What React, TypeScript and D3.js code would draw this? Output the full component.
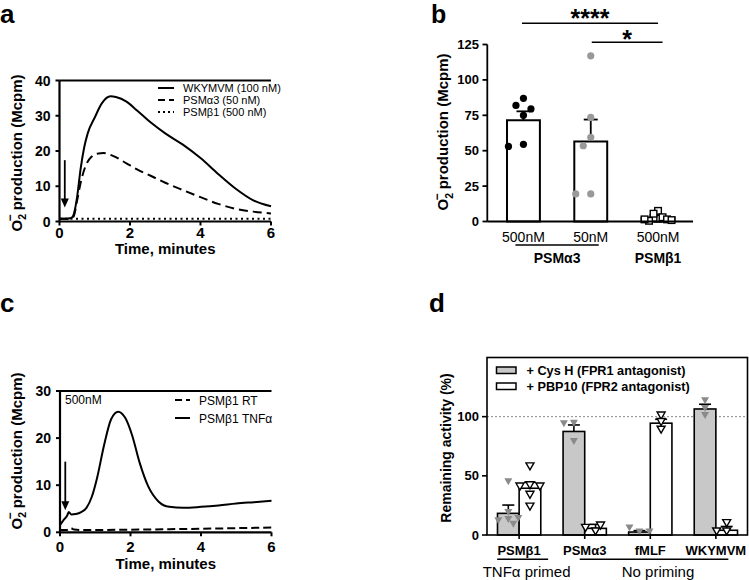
import React from "react";
import * as d3 from "d3";

const FONT = "Liberation Sans, Arial, Helvetica, sans-serif";

// ---------- Panel a data ----------
const timeA_W = [0, 0.1, 0.2, 0.3, 0.38, 0.45, 0.5, 0.6, 0.7, 0.8, 1.0, 1.2, 1.45, 1.6, 1.9, 2.2, 2.6, 3.0, 3.5, 4.0, 4.5, 5.0, 5.5, 6.0];
const wkymvm = [0.8, 0.8, 0.8, 0.9, 1.5, 4, 7, 15, 21, 25, 29.5, 33.5, 35.5, 35.3, 34, 31.5, 28, 25, 21.8, 18, 13.5, 9.3, 6, 4.3];
const timeA_P = [0, 0.1, 0.2, 0.3, 0.4, 0.5, 0.6, 0.75, 0.9, 1.1, 1.25, 1.5, 1.9, 2.2, 2.6, 3.0, 3.5, 4.0, 4.5, 5.0, 5.5, 6.0];
const psma3 = [0.8, 0.8, 0.8, 0.8, 1.4, 6, 11, 16, 18.3, 19.3, 19.4, 18.7, 16.5, 14.8, 12.9, 11, 8.9, 6.9, 5, 3.6, 2.8, 2.3];
const timeA_B = [0, 1, 2, 3, 4, 5, 6];
const psmb1 = [0.8, 0.8, 0.8, 0.8, 0.8, 0.8, 0.8];
const legendA = ["WKYMVM (100 nM)", "PSMα3 (50 nM)", "PSMβ1 (500 nM)"];
const xTicksA = [0, 2, 4, 6];
const yTicksA = [0, 10, 20, 30, 40];
const arrowA = { t: 0.15, from: 17.4, to: 4 };

// ---------- Panel b data ----------
const bCats = ["500nM", "50nM", "500nM"];
const bMeans = [71.5, 56.5, 2.7];
const bSem = [6.3, 15.5, 0.9];
const bPts = [
  [87, 82, 79.5, 75, 54.5, 53],
  [117, 73.5, 59.5, 53.5, 19.5, 19.5],
  [7.5, 2, 2.5, 3, 0.5, 1.5, 5.5, 1.5, 1],
];
const yTicksB = [0, 25, 50, 75, 100, 125];
const bGroupLabels = [
  { text: "PSMα3", from: 0, to: 1 },
  { text: "PSMβ1", from: 2, to: 2 },
];
const bSig = [
  { text: "****", from: 0, to: 2 },
  { text: "*", from: 1, to: 2 },
];

// ---------- Panel c data ----------
const timeC_T = [0, 0.1, 0.2, 0.25, 0.32, 0.45, 0.6, 0.75, 0.9, 1.05, 1.25, 1.45, 1.65, 1.85, 2.05, 2.25, 2.5, 2.8, 3.1, 3.5, 4.0, 4.5, 5.0, 5.5, 6.0];
const tnfa = [1.5, 2.6, 3.5, 4.3, 3.8, 3.9, 4.3, 5.2, 7.5, 11.5, 18.5, 24, 25.6, 24.3, 20.5, 15, 9.8, 6.5, 5.4, 5.2, 5.4, 5.7, 6.1, 6.4, 6.7];
const timeC_R = [0, 0.2, 0.3, 0.4, 0.6, 1, 2, 3, 4, 5, 6];
const rt = [0.5, 0.5, 0.9, 0.6, 0.5, 0.5, 0.55, 0.65, 0.75, 0.88, 1.0];
const legendC = ["PSMβ1 RT", "PSMβ1 TNFα"];
const xTicksC = [0, 2, 4, 6];
const yTicksC = [0, 10, 20, 30];
const arrowC = { t: 0.15, from: 15, to: 4.7 };

// ---------- Panel d data ----------
const dGroups = ["PSMβ1", "PSMα3", "fMLF", "WKYMVM"];
const dCysMean = [18.3, 87.5, 2.5, 106.5];
const dCysSem = [7, 5.5, 1.2, 4];
const dPbpMean = [39.5, 5.6, 94.5, 4];
const dPbpSem = [5, 3.4, 3.3, 3.2];
const dCysPts = [
  [45, 19, 13, 12, 9, 14],
  [94.5, 79, 94],
  [2.5, 6, 2.5],
  [101, 113.5, 107],
];
const dPbpPts = [
  [58, 42, 41, 41, 34, 24],
  [3, 6, 8],
  [101, 89, 95.5],
  [3, 10, 3],
];
const yTicksD = [0, 50, 100];
const dLegend = ["+ Cys H  (FPR1 antagonist)", "+ PBP10 (FPR2 antagonist)"];
const dPriming = [
  { text: "TNFα primed", from: 0, to: 0 },
  { text: "No priming", from: 1, to: 3 },
];

function swarm(vals: number[], y: (v: number) => number, cx: number, slot: number, minDist: number) {
  const placed: { x: number; y: number }[] = [];
  return vals.map((v) => {
    const yy = y(v);
    for (let k = 0; k < 30; k++) {
      const n = Math.ceil(k / 2);
      const off = k === 0 ? 0 : k % 2 === 1 ? -n * slot : n * slot;
      const x = cx + off;
      if (placed.every((p) => Math.hypot(p.x - x, p.y - yy) >= minDist)) {
        placed.push({ x, y: yy });
        return { x, y: yy, v };
      }
    }
    placed.push({ x: cx, y: yy });
    return { x: cx, y: yy, v };
  });
}

function O2Label({ x, y, size }: { x: number; y: number; size: number }) {
  return (
    <text transform={`translate(${x},${y}) rotate(-90)`} textAnchor="middle" fontFamily={FONT} fontWeight="bold" fontSize={size} fill="#000">
      <tspan>O</tspan>
      <tspan fontSize={size * 0.7} dy={size * 0.3}>2</tspan>
      <tspan fontSize={size * 0.8} dx={-size * 0.5} dy={-size * 0.8}>−</tspan>
      <tspan dy={size * 0.5}>{" production (Mcpm)"}</tspan>
    </text>
  );
}

function Arrow({ x, y1, y2 }: { x: number; y1: number; y2: number }) {
  return (
    <g>
      <line x1={x} x2={x} y1={y1} y2={y2 - 7} stroke="#000" strokeWidth={1.8} />
      <path d={`M${x - 4},${y2 - 9} L${x + 4},${y2 - 9} L${x},${y2} Z`} fill="#000" />
    </g>
  );
}

function PanelA() {
  const x = d3.scaleLinear().domain([0, 6]).range([59.5, 271]);
  const y = d3.scaleLinear().domain([0, 40]).range([221.5, 80.5]);
  const line = (ts: number[], vs: number[]) =>
    d3.line<number>().x((_, i) => x(ts[i])).y((v) => y(v)).curve(d3.curveMonotoneX)(vs) || "";
  const dashes = ["", "9,5", "2,3.5"];
  return (
    <g>
      <text x={0} y={23} fontFamily={FONT} fontWeight="bold" fontSize={26}>a</text>
      <path d={line(timeA_B, psmb1)} fill="none" stroke="#000" strokeWidth={2} strokeDasharray={dashes[2]} />
      <path d={line(timeA_P, psma3)} fill="none" stroke="#000" strokeWidth={2} strokeDasharray={dashes[1]} />
      <path d={line(timeA_W, wkymvm)} fill="none" stroke="#000" strokeWidth={2} />
      <line x1={x(0)} x2={x(6)} y1={y(40)} y2={y(40)} stroke="#000" strokeWidth={1.8} />
      <line x1={x(0)} x2={x(0)} y1={y(0)} y2={y(40)} stroke="#000" strokeWidth={2.2} />
      <line x1={x(0)} x2={x(6)} y1={y(0)} y2={y(0)} stroke="#000" strokeWidth={2.2} />
      {yTicksA.map((t) => (
        <g key={t}>
          <line x1={x(0) - 4} x2={x(0)} y1={y(t)} y2={y(t)} stroke="#000" strokeWidth={2} />
          <text x={x(0) - 9} y={y(t) + 5} textAnchor="end" fontFamily={FONT} fontWeight="bold" fontSize={14}>{t}</text>
        </g>
      ))}
      {xTicksA.map((t) => (
        <g key={t}>
          <line x1={x(t)} x2={x(t)} y1={y(0)} y2={y(0) + 4} stroke="#000" strokeWidth={2} />
          <text x={x(t)} y={237.5} textAnchor="middle" fontFamily={FONT} fontWeight="bold" fontSize={15}>{t}</text>
        </g>
      ))}
      <text x={(x(0) + x(6)) / 2} y={253.5} textAnchor="middle" fontFamily={FONT} fontWeight="bold" fontSize={15}>Time, minutes</text>
      <O2Label x={21.5} y={153} size={15} />
      <Arrow x={x(arrowA.t)} y1={y(arrowA.from)} y2={y(arrowA.to)} />
      {legendA.map((l, i) => (
        <g key={l}>
          <line x1={158} x2={174} y1={88 + i * 12} y2={88 + i * 12} stroke="#000" strokeWidth={2} strokeDasharray={dashes[i] === "" ? undefined : i === 1 ? "7,4" : "2,3"} />
          <text x={183} y={92 + i * 12} fontFamily={FONT} fontSize={11}>{l}</text>
        </g>
      ))}
    </g>
  );
}

function PanelB() {
  const x = d3.scaleBand<number>().domain([0, 1, 2]).range([489.5, 692]).paddingInner(1 - 33 / 67.5).paddingOuter(0.26);
  const y = d3.scaleLinear().domain([0, 125]).range([221.5, 44.5]);
  const cx = (i: number) => (x(i) as number) + x.bandwidth() / 2;
  return (
    <g>
      <text x={431} y={23} fontFamily={FONT} fontWeight="bold" fontSize={25}>b</text>
      {bMeans.map((m, i) => (
        <g key={i}>
          <rect x={x(i)} y={y(m)} width={x.bandwidth()} height={y(0) - y(m)} fill="#fff" stroke="#000" strokeWidth={2} />
          <line x1={cx(i)} x2={cx(i)} y1={y(m)} y2={y(m + bSem[i])} stroke="#000" strokeWidth={1.8} />
          <line x1={cx(i) - 7} x2={cx(i) + 7} y1={y(m + bSem[i])} y2={y(m + bSem[i])} stroke="#000" strokeWidth={1.8} />
        </g>
      ))}
      {swarm(bPts[0], y, cx(0), 7.5, 8.5).map((p, k) => (
        <circle key={"a" + k} cx={p.x} cy={p.y} r={3.6} fill="#000" />
      ))}
      {swarm(bPts[1], y, cx(1), 7.5, 8.5).map((p, k) => (
        <circle key={"b" + k} cx={p.x} cy={p.y} r={3.6} fill="#999" />
      ))}
      {swarm(bPts[2], y, cx(2), 4.5, 4).map((p, k) => (
        <rect key={"c" + k} x={p.x - 3.3} y={p.y - 3.3} width={6.6} height={6.6} fill="#fff" stroke="#000" strokeWidth={1.4} />
      ))}
      <line x1={487.3} x2={487.3} y1={y(0)} y2={y(125)} stroke="#000" strokeWidth={1.8} />
      <line x1={487.3} x2={693} y1={y(0)} y2={y(0)} stroke="#000" strokeWidth={1.8} />
      {yTicksB.map((t) => (
        <g key={t}>
          <line x1={482.5} x2={487.3} y1={y(t)} y2={y(t)} stroke="#000" strokeWidth={1.8} />
          <text x={479} y={y(t) + 4.5} textAnchor="end" fontFamily={FONT} fontWeight="bold" fontSize={13}>{t}</text>
        </g>
      ))}
      {bCats.map((c, i) => (
        <text key={i} x={cx(i)} y={241.5} textAnchor="middle" fontFamily={FONT} fontSize={14}>{c}</text>
      ))}
      {bGroupLabels.map((g) => (
        <g key={g.text}>
          {g.to > g.from && <line x1={cx(g.from) - 8} x2={cx(g.to) + 8} y1={245} y2={245} stroke="#000" strokeWidth={1.5} />}
          <text x={(cx(g.from) + cx(g.to)) / 2} y={263} textAnchor="middle" fontFamily={FONT} fontWeight="bold" fontSize={14}>{g.text}</text>
        </g>
      ))}
      {bSig.map((s, i) => {
        const ly = i === 0 ? 23.3 : 42.3;
        const x1 = i === 0 ? cx(s.from) - 1.5 : cx(s.from) + 1;
        const x2 = i === 0 ? cx(s.to) : cx(s.to) + 4.5;
        return (
          <g key={i}>
            <line x1={x1} x2={x2} y1={ly} y2={ly} stroke="#000" strokeWidth={1.5} />
            <text x={(x1 + x2) / 2} y={i === 0 ? 27 : 47.5} textAnchor="middle" fontFamily={FONT} fontWeight="bold" fontSize={25}>{s.text}</text>
          </g>
        );
      })}
      <O2Label x={448} y={132} size={15} />
    </g>
  );
}

function PanelC() {
  const x = d3.scaleLinear().domain([0, 6]).range([60, 271.5]);
  const y = d3.scaleLinear().domain([0, 30]).range([532.3, 391]);
  const line = (ts: number[], vs: number[]) =>
    d3.line<number>().x((_, i) => x(ts[i])).y((v) => y(v)).curve(d3.curveMonotoneX)(vs) || "";
  return (
    <g>
      <text x={0} y={312} fontFamily={FONT} fontWeight="bold" fontSize={26}>c</text>
      <path d={line(timeC_R, rt)} fill="none" stroke="#000" strokeWidth={2} strokeDasharray="8,4" />
      <path d={line(timeC_T, tnfa)} fill="none" stroke="#000" strokeWidth={2} />
      <line x1={x(0)} x2={x(6)} y1={y(30)} y2={y(30)} stroke="#000" strokeWidth={1.8} />
      <line x1={x(0)} x2={x(0)} y1={y(0)} y2={y(30)} stroke="#000" strokeWidth={2.2} />
      <line x1={x(0)} x2={x(6)} y1={y(0)} y2={y(0)} stroke="#000" strokeWidth={2.2} />
      {yTicksC.map((t) => (
        <g key={t}>
          <line x1={x(0) - 4} x2={x(0)} y1={y(t)} y2={y(t)} stroke="#000" strokeWidth={2} />
          <text x={x(0) - 9} y={y(t) + 5} textAnchor="end" fontFamily={FONT} fontWeight="bold" fontSize={14}>{t}</text>
        </g>
      ))}
      {xTicksC.map((t) => (
        <g key={t}>
          <line x1={x(t)} x2={x(t)} y1={y(0)} y2={y(0) + 4} stroke="#000" strokeWidth={2} />
          <text x={x(t)} y={552} textAnchor="middle" fontFamily={FONT} fontWeight="bold" fontSize={15}>{t}</text>
        </g>
      ))}
      <text x={(x(0) + x(6)) / 2} y={569} textAnchor="middle" fontFamily={FONT} fontWeight="bold" fontSize={15}>Time, minutes</text>
      <O2Label x={21.5} y={451} size={15} />
      <Arrow x={x(arrowC.t)} y1={y(arrowC.from)} y2={y(arrowC.to)} />
      <text x={65} y={404} fontFamily={FONT} fontSize={12}>500nM</text>
      {legendC.map((l, i) => (
        <g key={l}>
          <line x1={175} x2={190} y1={400 + i * 18} y2={400 + i * 18} stroke="#000" strokeWidth={2} strokeDasharray={i === 0 ? "7,4" : undefined} />
          <text x={199} y={404.5 + i * 18} fontFamily={FONT} fontSize={12}>{l}</text>
        </g>
      ))}
    </g>
  );
}

function PanelD() {
  const x = d3.scaleBand<number>().domain([0, 1, 2, 3]).range([487, 748]).paddingInner(0.34).paddingOuter(0.16);
  const y = d3.scaleLinear().domain([0, 150]).range([535, 357.5]);
  const bw = x.bandwidth();
  const cx = (i: number) => (x(i) as number) + bw / 2;
  const tri = (px: number, py: number) => `M${px - 4},${py - 3.5} L${px + 4},${py - 3.5} L${px},${py + 3.5} Z`;
  return (
    <g>
      <text x={429} y={312} fontFamily={FONT} fontWeight="bold" fontSize={26}>d</text>
      <line x1={487} x2={747} y1={y(100)} y2={y(100)} stroke="#888" strokeWidth={1} strokeDasharray="2,2" />
      {dGroups.map((g, i) => {
        const xl = x(i) as number;
        const c = cx(i);
        return (
          <g key={g}>
            <rect x={xl} y={y(dCysMean[i])} width={bw / 2} height={y(0) - y(dCysMean[i])} fill="#c8c8c8" stroke="#000" strokeWidth={1.6} />
            <line x1={xl + bw / 4} x2={xl + bw / 4} y1={y(dCysMean[i])} y2={y(dCysMean[i] + dCysSem[i])} stroke="#000" strokeWidth={1.6} />
            <line x1={xl + bw / 4 - 6} x2={xl + bw / 4 + 6} y1={y(dCysMean[i] + dCysSem[i])} y2={y(dCysMean[i] + dCysSem[i])} stroke="#000" strokeWidth={1.6} />
            <rect x={c} y={y(dPbpMean[i])} width={bw / 2} height={y(0) - y(dPbpMean[i])} fill="#fff" stroke="#000" strokeWidth={1.6} />
            <line x1={c + bw / 4} x2={c + bw / 4} y1={y(dPbpMean[i])} y2={y(dPbpMean[i] + dPbpSem[i])} stroke="#000" strokeWidth={1.6} />
            <line x1={c + bw / 4 - 6} x2={c + bw / 4 + 6} y1={y(dPbpMean[i] + dPbpSem[i])} y2={y(dPbpMean[i] + dPbpSem[i])} stroke="#000" strokeWidth={1.6} />
            {swarm(dCysPts[i], y, xl + bw / 4, 5, 6.5).map((p, k) => (
              <path key={"g" + k} d={tri(p.x, p.y)} fill="#8a8a8a" />
            ))}
            {swarm(dPbpPts[i], y, c + bw / 4, 5, 6.5).map((p, k) => (
              <path key={"w" + k} d={tri(p.x, p.y)} fill="#fff" stroke="#000" strokeWidth={1.4} />
            ))}
            <line x1={c} x2={c} y1={y(0)} y2={y(0) + 4} stroke="#000" strokeWidth={1.6} />
            <text x={c} y={555} textAnchor="middle" fontFamily={FONT} fontWeight="bold" fontSize={13}>{g}</text>
          </g>
        );
      })}
      <rect x={487} y={357.5} width={260.5} height={177.5} fill="none" stroke="#000" strokeWidth={1.6} />
      {yTicksD.map((t) => (
        <g key={t}>
          <line x1={482} x2={487} y1={y(t)} y2={y(t)} stroke="#000" strokeWidth={1.6} />
          <text x={479} y={y(t) + 4.5} textAnchor="end" fontFamily={FONT} fontWeight="bold" fontSize={13}>{t}</text>
        </g>
      ))}
      {dLegend.map((l, i) => (
        <g key={l}>
          <rect x={496.5} y={367 + i * 16} width={19.5} height={6.5} fill={i === 0 ? "#c8c8c8" : "#fff"} stroke="#000" strokeWidth={1.5} />
          <text x={526.5} y={375 + i * 16} fontFamily={FONT} fontWeight="bold" fontSize={12.7}>{l}</text>
        </g>
      ))}
      {dPriming.map((p) => {
        const x1 = p.to === p.from ? cx(p.from) - 22 : cx(p.from) - 5;
        const x2 = p.to === p.from ? cx(p.to) + 29 : cx(p.to) + 12.5;
        return (
          <g key={p.text}>
            <line x1={x1} x2={x2} y1={559.3} y2={559.3} stroke="#000" strokeWidth={1.5} />
            <text x={(x1 + x2) / 2 + 4} y={576.5} textAnchor="middle" fontFamily={FONT} fontSize={15}>{p.text}</text>
          </g>
        );
      })}
      <text transform={`translate(450.5,448) rotate(-90)`} textAnchor="middle" fontFamily={FONT} fontWeight="bold" fontSize={14}>Remaining activity (%)</text>
    </g>
  );
}

export default function App() {
  return (
    <svg width={749} height={580} viewBox="0 0 749 580" style={{ position: "absolute", left: 0, top: 0, background: "#fff" }}>
      <rect width={749} height={580} fill="#fff" />
      <PanelA />
      <PanelB />
      <PanelC />
      <PanelD />
    </svg>
  );
}
